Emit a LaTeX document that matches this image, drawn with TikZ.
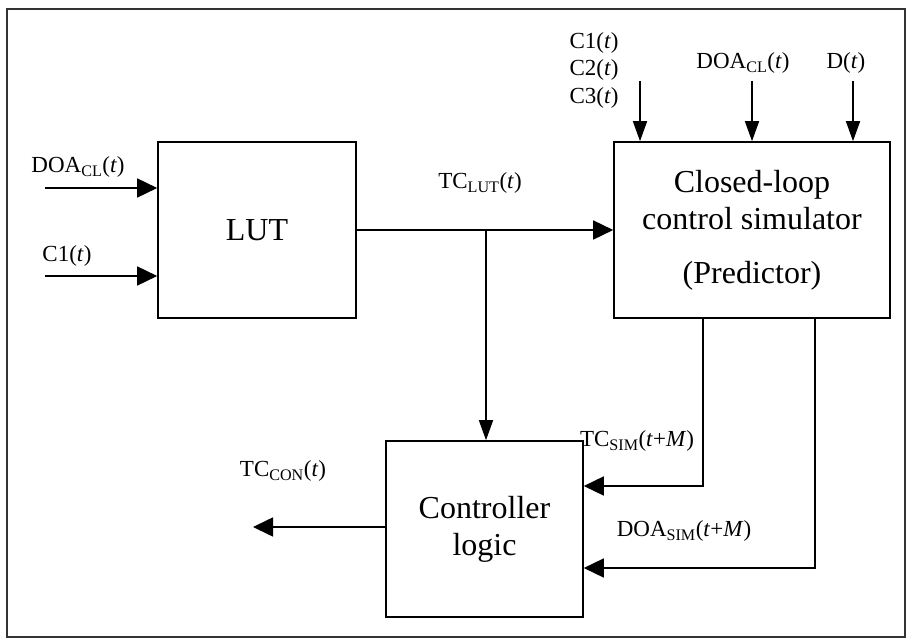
\documentclass[tikz,border=0pt]{standalone}
\usepackage{fontspec}
\setmainfont{Liberation Serif}
\usepackage{tikz}
\usetikzlibrary{arrows.meta,positioning,calc}

\begin{document}
\begin{tikzpicture}[x=1pt,y=-1pt,
    block/.style={draw, line width=1.6pt, inner sep=0pt, align=center,
      font=\fontsize{32}{37}\selectfont},
    lbl/.style={inner sep=0pt, font=\fontsize{23}{27}\selectfont},
    harr/.style={line width=1.6pt, -{Triangle[length=20pt,width=19pt]}},
    varr/.style={line width=1.6pt, -{Triangle[length=20pt,width=14pt]}}]
  \useasboundingbox (0,0) rectangle (911,642);
  % outer frame
  \draw[line width=1.2pt, black!80] (7,9) rectangle (905,637);

  % === Blocks ===
  \node[block, minimum width=198pt, minimum height=176pt] (lut) at (257,230) {LUT};
  \node[block, minimum width=276pt, minimum height=176pt] (sim) at (752,230)
    {Closed-loop\\control simulator\\[17pt](Predictor)};
  \node[block, minimum width=197pt, minimum height=176pt] (ctrl) at (484.5,529)
    {Controller\\logic};

  % === LUT inputs ===
  \coordinate (doain) at (45,188);
  \coordinate (c1in) at (45,276);
  \draw[harr] (doain) -- (doain -| lut.west);
  \draw[harr] (c1in) -- (c1in -| lut.west);
  \node[lbl] (doalbl) at (78,167) {DOA\textsubscript{CL}(\textit{t})};
  \node[lbl] (c1lbl) at (67,256) {C1(\textit{t})};

  % LUT output to simulator and controller
  \coordinate (branch) at (486,230);
  \draw[harr] (lut.east) -- (sim.west);
  \draw[varr] (branch) -- (branch |- ctrl.north);
  \node[lbl] (tclut) at (480,183) {TC\textsubscript{LUT}(\textit{t})};

  % === Simulator inputs ===
  \coordinate (cin) at (640,81);
  \coordinate (doatop) at (752,81);
  \coordinate (din) at (853,81);
  \foreach \c in {cin, doatop, din} {
    \draw[varr] (\c) -- (\c |- sim.north);
  }
  \node[lbl, align=left, font=\fontsize{23}{27.5}\selectfont] (clbl) at (594,70)
    {C1(\textit{t})\\C2(\textit{t})\\C3(\textit{t})};
  \node[lbl] (doatoplbl) at (743,63) {DOA\textsubscript{CL}(\textit{t})};
  \node[lbl] (dlbl) at (846,63) {D(\textit{t})};

  % === Simulator outputs ===
  \coordinate (tcsim) at (703,486);
  \coordinate (doasim) at (815,568);
  \draw[harr] (tcsim |- sim.south) -- (tcsim) -- (tcsim -| ctrl.east);
  \draw[harr] (doasim |- sim.south) -- (doasim) -- (doasim -| ctrl.east);
  \node[lbl] (tcsimlbl) at (637,441) {TC\textsubscript{SIM}(\textit{t}+\textit{M})};
  \node[lbl] (doasimlbl) at (684,531) {DOA\textsubscript{SIM}(\textit{t}+\textit{M})};

  % Controller output
  \coordinate (conout) at (253,527);
  \draw[harr] (conout -| ctrl.west) -- (conout);
  \node[lbl] (tccon) at (283,471) {TC\textsubscript{CON}(\textit{t})};
\end{tikzpicture}
\end{document}
